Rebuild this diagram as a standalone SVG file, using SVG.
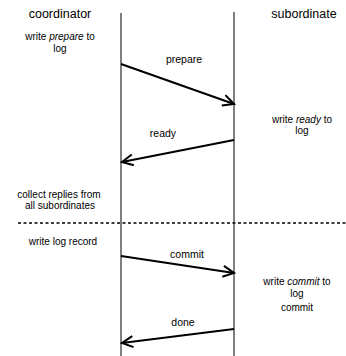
<svg xmlns="http://www.w3.org/2000/svg" width="346" height="356" viewBox="0 0 346 356">
<style>
text{font-family:"Liberation Sans",Arial,sans-serif;fill:#000;text-anchor:middle}
.h{font-size:12.5px}
.t{font-size:10px}
.lab{font-size:10.5px}
.life{stroke:#000;stroke-width:1;fill:none}
.msg{stroke:#000;stroke-width:2;fill:none;marker-end:url(#ah)}
.sep{stroke:#000;stroke-width:1.5;stroke-dasharray:3 2.5;fill:none}
</style>
<defs>
<marker id="ah" markerUnits="userSpaceOnUse" markerWidth="16" markerHeight="16" viewBox="-13 -8 16 16" refX="0" refY="0" orient="auto">
<path d="M-11,-5.5 L0,0 L-11,5.5" stroke="#000" stroke-width="2" fill="none"/>
</marker>
</defs>
<rect width="346" height="356" fill="#fff"/>
<g id="coordinator">
<line class="life" x1="121" y1="13" x2="121" y2="356"/>
<text class="h" x="60" y="18">coordinator</text>
<text class="t" x="60" y="40">write <tspan font-style="italic">prepare</tspan> to</text>
<text class="t" x="60" y="52">log</text>
<text class="t" x="59" y="198">collect replies from</text>
<text class="t" x="60" y="209">all subordinates</text>
<text class="t" x="63" y="245">write log record</text>
</g>
<g id="subordinate">
<line class="life" x1="234" y1="12" x2="234" y2="356"/>
<text class="h" x="304" y="18">subordinate</text>
<text class="t" x="302" y="123">write <tspan font-style="italic">ready</tspan> to</text>
<text class="t" x="302" y="134">log</text>
<text class="t" x="297" y="285">write <tspan font-style="italic">commit</tspan> to</text>
<text class="t" x="297" y="297">log</text>
<text class="t" x="297" y="311">commit</text>
</g>
<g id="connectors">
<line class="msg" x1="121" y1="64" x2="234" y2="104"/>
<line class="msg" x1="234" y1="140" x2="122" y2="162"/>
<line class="msg" x1="121" y1="256" x2="234" y2="273"/>
<line class="msg" x1="234" y1="329" x2="122" y2="343"/>
<line class="sep" x1="18" y1="223" x2="346" y2="223"/>
<text class="lab" x="184" y="63">prepare</text>
<text class="lab" x="163" y="137">ready</text>
<text class="lab" x="187" y="258">commit</text>
<text class="lab" x="183" y="326">done</text>
</g>
</svg>
